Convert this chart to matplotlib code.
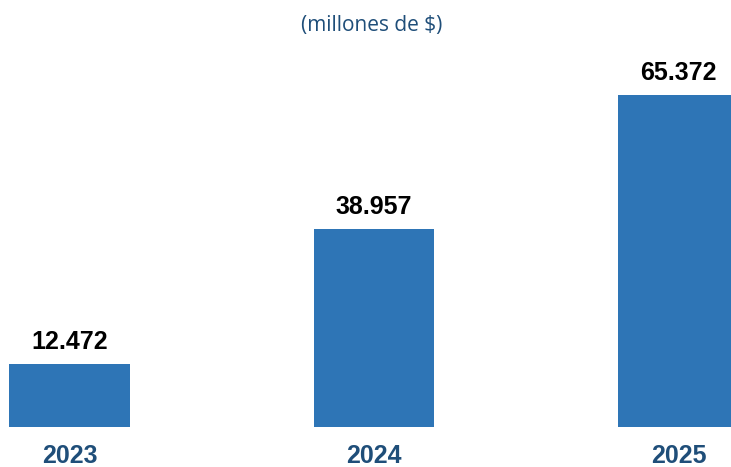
import matplotlib
matplotlib.use("Agg")
import matplotlib.pyplot as plt

years = ["2023", "2024", "2025"]
values = [12.472, 38.957, 65.372]
value_labels = ["12.472", "38.957", "65.372"]

BAR_COLOR = "#2E75B6"
YEAR_COLOR = "#1F4E79"

fig = plt.figure(figsize=(7.31, 4.67), dpi=100)
# axes spans full width, baseline 40px from bottom
ax = fig.add_axes([0, 40 / 467, 1, 427 / 467])

x = list(range(len(years)))
ax.bar(x, values, width=0.397, color=BAR_COLOR)

ax.set_xlim(-0.228, 2.172)
ax.set_ylim(0, 84.06)
ax.axis("off")

for xi, v, lab in zip(x, values, value_labels):
    ax.text(xi, v + 4.3, lab, ha="center", va="center", fontsize=18,
            fontweight="bold", color="black", family="Liberation Sans")

for xi, yr in zip(x, years):
    ax.text(xi, -5.8, yr, ha="center", va="center", fontsize=18,
            fontweight="bold", color=YEAR_COLOR, family="Liberation Sans",
            clip_on=False)

fig.text(0.508, 1 - 25 / 467, "(millones de $)", ha="center", va="center",
         fontsize=15, fontweight="medium", color=YEAR_COLOR,
         family="Open Sans")

fig.savefig("out.png", dpi=100)
